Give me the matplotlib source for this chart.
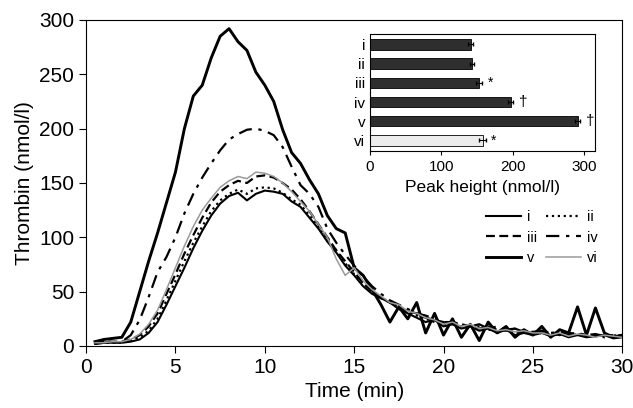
import matplotlib
matplotlib.use('Agg')
import matplotlib.pyplot as plt
import numpy as np

plt.rcParams['font.family'] = ['Liberation Sans', 'DejaVu Sans']

# sampling times (min), 0.5 min apart
time = np.arange(0.5, 30.01, 0.5)

thr_i = [2, 3, 3, 3, 4, 6, 12, 22, 38, 55,
         72, 90, 106, 120, 131, 138, 141, 134, 140, 143,
         142, 140, 133, 128, 118, 108, 96, 86, 74, 65,
         55, 48, 44, 40, 34, 30, 26, 22, 24, 18,
         20, 16, 18, 14, 16, 12, 15, 10, 12, 10,
         12, 9, 11, 8, 10, 8, 9, 10, 7, 8]
thr_ii = [2, 3, 3, 3, 5, 8, 14, 25, 42, 60,
          78, 95, 110, 124, 134, 140, 144, 140, 145, 146,
          145, 141, 135, 130, 120, 110, 98, 88, 76, 66,
          58, 50, 45, 40, 36, 32, 28, 25, 22, 20,
          22, 18, 16, 18, 15, 14, 16, 12, 13, 11,
          12, 10, 12, 9, 11, 9, 10, 8, 10, 9]
thr_iii = [3, 4, 4, 4, 6, 10, 18, 30, 48, 66,
           85, 102, 118, 132, 142, 148, 152, 150, 156, 157,
           155, 150, 144, 135, 124, 112, 100, 88, 78, 68,
           58, 50, 44, 40, 36, 32, 30, 26, 24, 22,
           20, 20, 18, 16, 18, 15, 14, 16, 13, 12,
           14, 12, 10, 12, 11, 10, 9, 11, 9, 10]
thr_iv = [2, 3, 3, 4, 10, 24, 45, 68, 82, 100,
          122, 140, 155, 168, 180, 190, 195, 199, 200, 198,
          194, 183, 165, 148, 140, 128, 108, 95, 84, 74,
          64, 55, 48, 42, 38, 34, 30, 28, 25, 22,
          22, 20, 18, 20, 16, 18, 15, 16, 14, 13,
          14, 12, 13, 11, 12, 10, 11, 9, 10, 9]
thr_v = [4, 6, 7, 8, 22, 50, 78, 104, 132, 160,
         200, 230, 240, 265, 285, 292, 280, 272, 252, 240,
         225, 199, 178, 168, 153, 140, 120, 108, 104, 72,
         65, 52, 38, 22, 36, 25, 40, 12, 30, 10,
         25, 8, 20, 5, 22, 12, 18, 8, 15, 10,
         18, 8, 15, 12, 36, 10, 35, 12, 8, 10]
thr_vi = [3, 3, 4, 4, 6, 11, 20, 33, 52, 72,
          92, 110, 125, 136, 146, 152, 156, 154, 160, 159,
          156, 150, 142, 133, 124, 112, 100, 80, 65, 72,
          60, 52, 46, 40, 38, 32, 30, 26, 24, 20,
          22, 18, 20, 16, 17, 14, 15, 13, 14, 12,
          12, 10, 12, 9, 11, 10, 8, 10, 9, 8]

groups = ['i', 'ii', 'iii', 'iv', 'v', 'vi']
peak_height = [141, 143, 153, 197, 291, 158]
peak_err = [3, 3, 4, 4, 4, 5]
peak_mark = ['', '', '*', '\u2020', '\u2020', '*']

fig = plt.figure(figsize=(6.33, 4.08), dpi=100)
ax = fig.add_axes([0.136, 0.152, 0.847, 0.799])

l1, = ax.plot(time, thr_i, color='black', lw=1.5, ls='-', label='i')
l2, = ax.plot(time, thr_ii, color='black', lw=1.6, ls=':', label='ii')
l3, = ax.plot(time, thr_iii, color='black', lw=1.6, ls=(0, (4, 2)), label='iii')
l4, = ax.plot(time, thr_iv, color='black', lw=1.6, ls=(0, (6, 3, 1.5, 3)), label='iv')
l5, = ax.plot(time, thr_v, color='black', lw=2.1, ls='-', label='v')
l6, = ax.plot(time, thr_vi, color='#9a9a9a', lw=1.1, ls='-', label='vi')

ax.set_xlim(0, 30)
ax.set_ylim(0, 300)
ax.set_xticks([0, 5, 10, 15, 20, 25, 30])
ax.set_yticks([0, 50, 100, 150, 200, 250, 300])
ax.tick_params(labelsize=15, length=5, width=0.8)
ax.set_xlabel('Time (min)', fontsize=15)
ax.set_ylabel('Thrombin (nmol/l)', fontsize=15)
for s in ax.spines.values():
    s.set_linewidth(0.8)

# rows: i ii / iii iv / v vi  (legend fills column by column)
handles = [l1, l3, l5, l2, l4, l6]
ax.legend(handles, [h.get_label() for h in handles], fontsize=10.5,
          frameon=False, ncol=2, loc='upper right',
          bbox_to_anchor=(0.965, 0.435), handlelength=2.4, handletextpad=0.4,
          columnspacing=0.6, labelspacing=0.45, borderaxespad=0)

# inset: peak heights
ins = fig.add_axes([0.5845, 0.630, 0.355, 0.287])
ypos = np.arange(len(groups))
bar_colors = ['#2e2e2e'] * 5 + ['#ececec']
ins.barh(ypos, peak_height, height=0.55, color=bar_colors,
         edgecolor='black', linewidth=0.6, xerr=peak_err,
         error_kw=dict(ecolor='black', lw=0.8, capsize=1.5))
for y, h, m in zip(ypos, peak_height, peak_mark):
    if m:
        ins.text(h + 12, y, m, fontsize=11 if m == '\u2020' else 10,
                 va='center', ha='left')
ins.set_yticks(ypos)
ins.set_yticklabels(groups)
ins.set_ylim(len(groups) - 0.45, -0.55)
ins.set_xlim(0, 315)
ins.set_xticks([0, 100, 200, 300])
ins.tick_params(axis='x', labelsize=11, length=3)
ins.tick_params(axis='y', labelsize=11, length=0)
ins.set_xlabel('Peak height (nmol/l)', fontsize=12.5)
for s in ins.spines.values():
    s.set_linewidth(0.8)

fig.savefig('out.png', dpi=100)
plt.close(fig)
